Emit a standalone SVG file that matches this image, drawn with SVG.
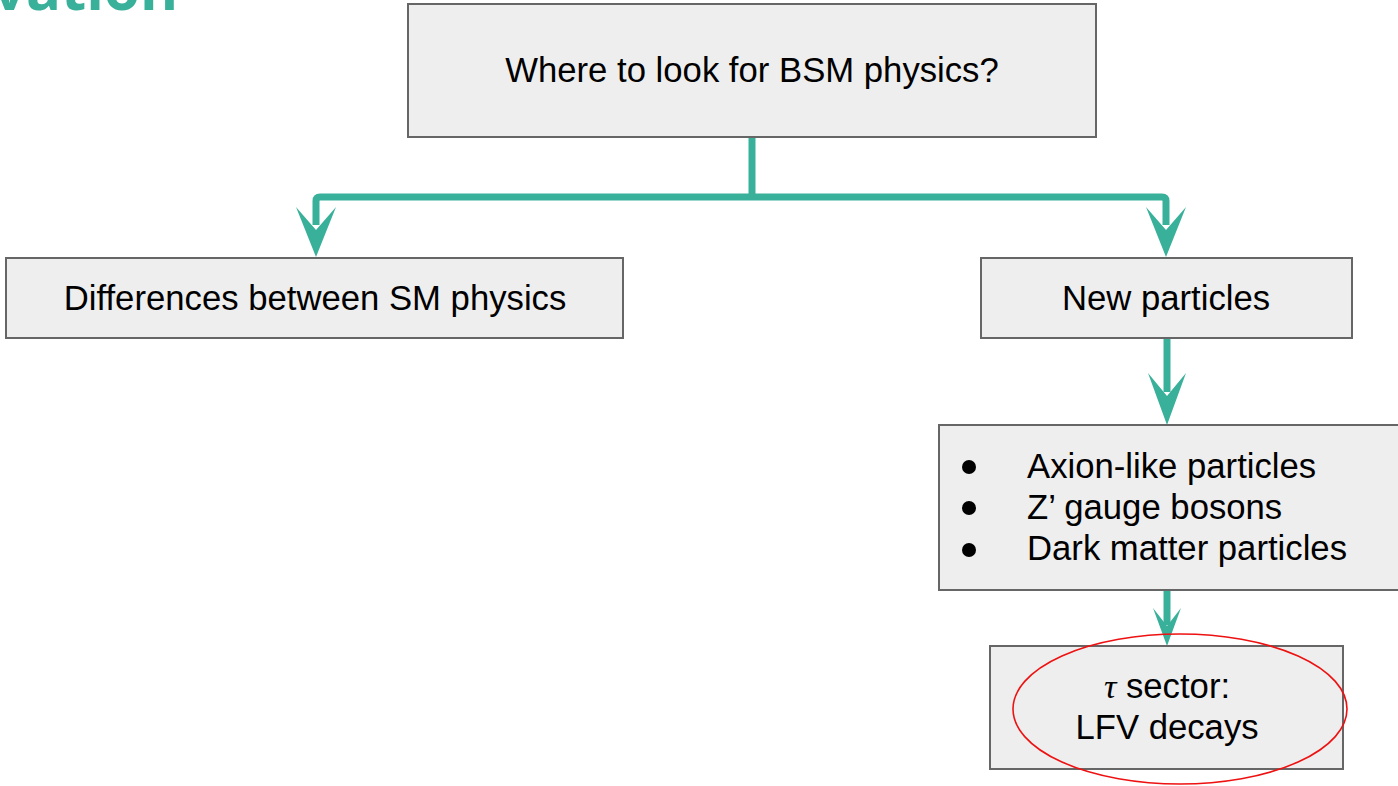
<svg xmlns="http://www.w3.org/2000/svg" width="1398" height="786" viewBox="0 0 1398 786">
  <style>
    .box { fill: #eeeeee; stroke: #666666; stroke-width: 2; }
    .lbl { font-family: "Liberation Sans", Arial, sans-serif; font-size: 34.7px; fill: #000000; }
    .c { text-anchor: middle; }
    .conn { fill: none; stroke: #39b09a; stroke-width: 7; stroke-linejoin: round; }
    .head { fill: #39b09a; stroke: none; }
    .title { font-family: "Open Sans", "Liberation Sans", sans-serif; font-weight: bold; font-size: 58px; fill: #39b09a; text-anchor: end; }
  </style>
  <rect width="1398" height="786" fill="#ffffff"/>
  <text class="title" x="178" y="10">vation</text>

  <g id="connectors">
    <path class="conn" d="M752,137 V197"/>
    <path class="conn" d="M316,225 V201 Q316,197 320,197 H1162 Q1166,197 1166,201 V225"/>
    <polygon class="head" points="316,257 296,207 316,230 336,207"/>
    <polygon class="head" points="1166,257 1146,207 1166,230 1186,207"/>
    <path class="conn" d="M1167,338 V392"/>
    <polygon class="head" points="1167,425 1148,373 1167,396 1186,373"/>
    <path class="conn" d="M1167,590 V625"/>
    <polygon class="head" points="1167,646 1153,608 1167,626 1181,608"/>
  </g>

  <g id="node-top">
    <rect class="box" x="408" y="4" width="688" height="133"/>
    <text class="lbl c" x="752" y="82">Where to look for BSM physics?</text>
  </g>

  <g id="node-diff">
    <rect class="box" x="6" y="258" width="617" height="80"/>
    <text class="lbl c" x="315" y="310">Differences between SM physics</text>
  </g>

  <g id="node-new">
    <rect class="box" x="981" y="258" width="371" height="80"/>
    <text class="lbl c" x="1166" y="310">New particles</text>
  </g>

  <g id="node-list">
    <rect class="box" x="939" y="425" width="462" height="165"/>
    <circle cx="969" cy="467" r="7" fill="#000"/>
    <circle cx="969" cy="508" r="7" fill="#000"/>
    <circle cx="969" cy="550" r="7" fill="#000"/>
    <text class="lbl" x="1027" y="478">Axion-like particles</text>
    <text class="lbl" x="1027" y="519">Z’ gauge bosons</text>
    <text class="lbl" x="1027" y="560">Dark matter particles</text>
  </g>

  <g id="node-tau">
    <rect class="box" x="990" y="646" width="353" height="123"/>
    <text class="lbl c" x="1167" y="698"><tspan font-family="'Liberation Serif', serif" font-style="italic">τ</tspan> sector:</text>
    <text class="lbl c" x="1167" y="739">LFV decays</text>
  </g>

  <ellipse cx="1180" cy="709" rx="167" ry="75" fill="none" stroke="#ee1111" stroke-width="1.6"/>
</svg>
